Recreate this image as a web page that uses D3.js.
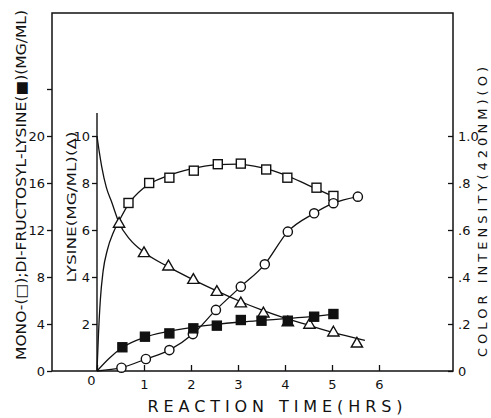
<!DOCTYPE html>
<html>
<head>
<meta charset="utf-8">
<script src="https://cdn.jsdelivr.net/npm/d3@7"></script>
<style>
  body { margin: 0; background: #fff; }
  text { font-family: "DejaVu Sans", sans-serif; fill: #111; }
</style>
</head>
<body>
<svg id="mainsvg" width="491" height="418"></svg>
<script>
// marker data
const monoTime = [0.67, 1.11, 1.54, 2.06, 2.57, 3.06, 3.6, 4.05, 4.67, 5.03];
const monoVal = [14.3, 16.0, 16.45, 17.05, 17.6, 17.65, 17.15, 16.45, 15.6, 14.9];

const diTime = [0.54, 1.02, 1.54, 2.05, 2.55, 3.06, 3.5, 4.06, 4.62, 5.03];
const diVal = [2.02, 2.92, 3.2, 3.63, 3.86, 4.34, 4.28, 4.28, 4.62, 4.85];

const lysTime = [0.47, 1.0, 1.52, 2.05, 2.55, 3.06, 3.54, 4.06, 4.52, 5.03, 5.53];
const lysVal = [6.3, 5.05, 4.48, 3.91, 3.4, 2.91, 2.48, 2.1, 2.0, 1.67, 1.2];

const colorTime = [0.52, 1.04, 1.54, 2.04, 2.53, 3.06, 3.57, 4.06, 4.62, 5.03, 5.55];
const colorVal = [0.014, 0.051, 0.089, 0.157, 0.26, 0.359, 0.454, 0.593, 0.671, 0.714, 0.742];

// drawn fit curves
const monoFitT = [0, 0.03, 0.07, 0.13, 0.22, 0.35, 0.5, 0.67, 1.0, 1.5, 2.0, 2.5, 3.0, 3.5, 4.0, 4.5, 5.0];
const monoFitV = [0, 3, 6, 8.5, 10.3, 11.8, 13, 14.2, 15.6, 16.6, 17.2, 17.55, 17.6, 17.3, 16.7, 15.8, 14.9];
const lysFitT = [0, 0.05, 0.1, 0.2, 0.31, 0.47, 0.7, 1.0, 1.5, 2.0, 2.5, 3.0, 3.5, 4.0, 4.5, 5.0, 5.7];
const lysFitV = [10, 9.3, 8.7, 7.8, 7.2, 6.3, 5.6, 5.05, 4.45, 3.93, 3.45, 3.0, 2.6, 2.25, 1.95, 1.65, 1.3];
const diFitT = [0, 0.25, 0.54, 1.0, 1.5, 2.0, 2.5, 3.0, 3.5, 4.0, 4.5, 5.03];
const diFitV = [0, 1.05, 2.0, 2.85, 3.35, 3.7, 3.95, 4.15, 4.3, 4.45, 4.6, 4.85];
const colorFitT = [0].concat(colorTime);
const colorFitV = [0].concat(colorVal);

// ticks
const timeTicks = [0, 1, 2, 3, 4, 5, 6];
const monoTicks = [0, 4, 8, 12, 16, 20, 24];
const lysTicks = [0, 2, 4, 6, 8, 10];
const colorTicks = [0, 0.2, 0.4, 0.6, 0.8, 1.0];

const svg = d3.select('#mainsvg');
const frameL = 52, frameR = 453, frameT = 13, frameB = 371, innerX = 97;

const xScale = d3.scaleLinear().domain([0, 6]).range([innerX, 379]);
const yMono = d3.scaleLinear().domain([0, 20]).range([frameB, 136]);
const yLys = d3.scaleLinear().domain([0, 10]).range([frameB, 136]);
const yColor = d3.scaleLinear().domain([0, 1]).range([frameB, 136]);

const zip = (a, b) => a.map((d, i) => [d, b[i]]);

// frame
svg.append('rect')
  .attr('x', frameL).attr('y', frameT)
  .attr('width', frameR - frameL).attr('height', frameB - frameT)
  .attr('fill', 'none').attr('stroke', '#111').attr('stroke-width', 1.5);

// inner lysine axis line
svg.append('line')
  .attr('x1', innerX).attr('x2', innerX)
  .attr('y1', 113).attr('y2', frameB)
  .attr('stroke', '#111').attr('stroke-width', 1.4);

const styleAxis = g => {
  g.select('.domain').remove();
  g.attr('font-family', null);
  g.selectAll('.tick line').attr('stroke', '#111').attr('stroke-width', 1.3);
  g.selectAll('.tick text').attr('font-size', 13).attr('fill', '#111');
};

// outer left axis
svg.append('g')
  .attr('transform', `translate(${frameL},0)`)
  .call(d3.axisLeft(yMono).tickValues(monoTicks).tickSize(5).tickPadding(2)
    .tickFormat(d => d < 24 ? d : ''))
  .call(styleAxis);

// inner lysine axis
svg.append('g')
  .attr('transform', `translate(${innerX},0)`)
  .call(d3.axisLeft(yLys).tickValues(lysTicks.filter(d => d > 0)).tickSize(5).tickPadding(2))
  .call(styleAxis);

// right colour axis
svg.append('g')
  .attr('transform', `translate(${frameR},0)`)
  .call(d3.axisRight(yColor).tickValues(colorTicks).tickSizeInner(-5).tickSizeOuter(0).tickPadding(5)
    .tickFormat(d => d === 0 ? '0' : d === 1 ? '1.0' : d3.format('.1f')(d).replace(/^0/, '')))
  .call(styleAxis);

// time axis
const xg = svg.append('g')
  .attr('transform', `translate(0,${frameB})`)
  .call(d3.axisBottom(xScale).tickValues(timeTicks).tickSizeInner(-6).tickSizeOuter(0).tickPadding(9)
    .tickFormat(d3.format('d')))
  .call(styleAxis);
xg.selectAll('.tick text').filter(d => d === 0).attr('dx', -6).attr('dy', '0.4em');

// axis titles
svg.append('text')
  .text('MONO-(□);DI-FRUCTOSYL-LYSINE(■)(MG/ML)')
  .attr('transform', 'translate(26,185) rotate(-90)')
  .attr('text-anchor', 'middle')
  .attr('font-size', 14)
  .attr('textLength', 350).attr('lengthAdjust', 'spacingAndGlyphs');

svg.append('text')
  .text('LYSINE(MG/ML)(Δ)')
  .attr('transform', 'translate(76,207) rotate(-90)')
  .attr('text-anchor', 'middle')
  .attr('font-size', 13)
  .attr('textLength', 151).attr('lengthAdjust', 'spacingAndGlyphs');

svg.append('text')
  .text('COLOR INTENSITY(420NM)(O)')
  .attr('transform', 'translate(487,212) rotate(-90)')
  .attr('text-anchor', 'middle')
  .attr('font-size', 13)
  .attr('textLength', 290).attr('lengthAdjust', 'spacing');

svg.append('text')
  .text('REACTION TIME(HRS)')
  .attr('x', 275).attr('y', 412)
  .attr('text-anchor', 'middle')
  .attr('font-size', 16)
  .attr('textLength', 255).attr('lengthAdjust', 'spacing');

// curves
const curves = [
  { pts: zip(monoFitT, monoFitV), y: yMono },
  { pts: zip(lysFitT, lysFitV), y: yLys },
  { pts: zip(diFitT, diFitV), y: yMono },
  { pts: zip(colorFitT, colorFitV), y: yColor }
];
curves.forEach(c => {
  const line = d3.line()
    .x(d => xScale(d[0]))
    .y(d => c.y(d[1]))
    .curve(d3.curveMonotoneX);
  svg.append('path').datum(c.pts)
    .attr('d', line)
    .attr('fill', 'none')
    .attr('stroke', '#111')
    .attr('stroke-width', 1.3);
});

// markers
const mk = svg.append('g').attr('stroke', '#111').attr('stroke-width', 1.4);

mk.selectAll('.lys').data(zip(lysTime, lysVal)).join('path')
  .attr('class', 'lys')
  .attr('d', d3.symbol(d3.symbolTriangle, 55))
  .attr('transform', d => `translate(${xScale(d[0])},${yLys(d[1]) + 1})`)
  .attr('fill', '#fff');

mk.selectAll('.mono').data(zip(monoTime, monoVal)).join('rect')
  .attr('class', 'mono')
  .attr('x', d => xScale(d[0]) - 4.5).attr('y', d => yMono(d[1]) - 4.5)
  .attr('width', 9).attr('height', 9)
  .attr('fill', '#fff');

mk.selectAll('.color').data(zip(colorTime, colorVal)).join('circle')
  .attr('class', 'color')
  .attr('cx', d => xScale(d[0])).attr('cy', d => yColor(d[1]))
  .attr('r', 4.6)
  .attr('fill', '#fff');

mk.selectAll('.di').data(zip(diTime, diVal)).join('rect')
  .attr('class', 'di')
  .attr('x', d => xScale(d[0]) - 4.5).attr('y', d => yMono(d[1]) - 4.5)
  .attr('width', 9).attr('height', 9)
  .attr('fill', '#111');
</script>
</body>
</html>
